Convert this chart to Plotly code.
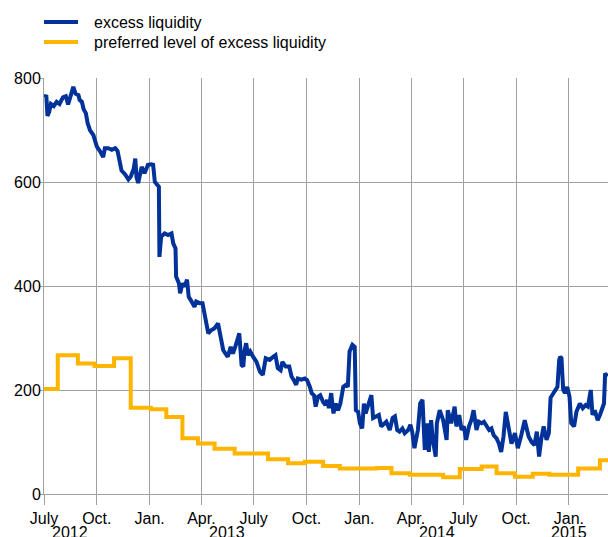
import pandas as pd
import plotly.graph_objects as go

START = pd.Timestamp("2012-07-01")

# excess liquidity (EUR bn); x given as days after 1 July 2012
excess_days = [
    1, 4, 6, 9, 12, 17, 22, 27, 33, 38, 42, 46, 51, 55, 60, 62, 66, 69, 73, 76,
    80, 86, 89, 92, 97, 100, 103, 106, 112, 118, 124, 128, 131, 135, 141, 147, 151, 156, 159, 161,
    164, 170, 175, 181, 187, 190, 193, 197, 200, 201, 204, 210, 216, 222, 225, 229, 230, 235, 237, 241,
    245, 249, 252, 257, 262, 265, 271, 276, 280, 286, 291, 297, 303, 308, 312, 316, 320, 325, 329, 335,
    340, 344, 347, 349, 352, 355, 359, 364, 370, 376, 381, 386, 393, 399, 403, 407, 412, 415, 421, 427,
    431, 435, 439, 442, 448, 454, 458, 463, 466, 470, 473, 477, 481, 486, 490, 493, 496, 500, 504, 508,
    512, 516, 521, 526, 529, 532, 537, 541, 543, 547, 550, 554, 557, 560, 564, 570, 573, 578, 583, 587,
    592, 596, 602, 607, 611, 615, 619, 624, 628, 634, 638, 641, 645, 651, 655, 659, 663, 667, 670, 674,
    677, 682, 684, 689, 695, 701, 703, 709, 715, 718, 723, 727, 731, 735, 740, 744, 748, 753, 757, 762,
    766, 770, 775, 779, 783, 788, 792, 796, 800, 804, 808, 811, 814, 820, 825, 831, 837, 841, 844, 849,
    854, 858, 862, 866, 870, 875, 879, 882, 886, 890, 894, 897, 899, 901, 904, 907, 911, 915, 918, 923,
    927, 933, 938, 943, 947, 952, 955, 959, 964, 968, 972, 975, 977, 981,
]
excess_values = [
    763, 767, 727, 735, 750, 746, 754, 750, 763, 765, 749, 763, 783, 770, 767, 758, 754, 740, 732, 713,
    700, 690, 680, 668, 660, 653, 648, 665, 665, 662, 665, 660, 640, 622, 615, 605, 610, 625, 645, 610,
    598, 629, 617, 633, 634, 633, 600, 594, 591, 456, 495, 501, 498, 501, 482, 472, 418, 405, 386, 405,
    399, 412, 379, 370, 360, 370, 367, 367, 345, 309, 315, 319, 328, 303, 277, 270, 264, 283, 270, 290,
    309, 248, 245, 274, 290, 267, 274, 264, 254, 235, 229, 261, 258, 264, 267, 242, 238, 254, 245, 245,
    226, 219, 210, 222, 220, 222, 219, 206, 194, 190, 168, 187, 190, 177, 171, 181, 165, 194, 155, 174,
    161, 174, 206, 210, 206, 274, 287, 283, 161, 158, 136, 126, 174, 155, 171, 190, 146, 149, 152, 130,
    136, 139, 123, 146, 149, 123, 120, 126, 117, 123, 133, 120, 88, 123, 174, 181, 85, 136, 81, 142,
    104, 72, 136, 161, 142, 104, 161, 136, 168, 130, 152, 123, 130, 104, 130, 142, 161, 123, 139, 136,
    139, 130, 123, 126, 113, 107, 97, 81, 110, 158, 136, 123, 97, 117, 88, 113, 142, 123, 110, 100,
    94, 120, 72, 107, 130, 104, 117, 185, 192, 197, 206, 258, 264, 261, 200, 194, 206, 187, 136, 130,
    158, 174, 165, 171, 168, 200, 152, 161, 142, 152, 168, 174, 232, 226,
]

# preferred level of excess liquidity: value from each step onwards
preferred_days = [
    0, 24, 59, 88, 122, 151, 186, 213, 241, 268, 297, 332, 390, 425, 454, 486,
    515, 579, 605, 637, 695, 724, 762, 788, 820, 851, 880, 930, 968, 982,
]
preferred_values = [
    202, 267, 251, 246, 261, 166, 163, 148, 107, 97, 87, 78, 67, 59, 62, 54,
    49, 50, 40, 37, 32, 48, 53, 40, 33, 39, 37, 49, 65, 65,
]

quarter_ticks = pd.date_range("2012-07-01", "2015-01-01", freq="QS")
quarter_labels = ["July", "Oct.", "Jan.", "Apr."] * 3
year_labels = ["2012", "2013", "2014", "2015"]
year_label_dates = ["2012-08-15", "2013-05-15", "2014-05-17", "2015-01-01"]

BLUE = "#003299"
YELLOW = "#ffb400"
GRID = "#a0a0a0"
FONT = "Liberation Sans, Arial, sans-serif"

W, H = 608, 537
L, R, T, B = 44, 608, 78, 494


def px_x(x):
    return (x - L) / (R - L)


def px_y(y):
    return (B - y) / (B - T)


excess_dates = START + pd.to_timedelta(excess_days, unit="D")
preferred_dates = START + pd.to_timedelta(preferred_days, unit="D")

fig = go.Figure()
fig.add_trace(go.Scatter(x=preferred_dates, y=preferred_values, mode="lines",
                         name="preferred level of excess liquidity", line_shape="hv",
                         line=dict(color=YELLOW, width=4), showlegend=False))
fig.add_trace(go.Scatter(x=excess_dates, y=excess_values, mode="lines",
                         name="excess liquidity",
                         line=dict(color=BLUE, width=4), showlegend=False))

# legend drawn by hand to match the original spacing
legend_items = [("excess liquidity", BLUE, 22), ("preferred level of excess liquidity", YELLOW, 42)]
for text, colour, ypos in legend_items:
    fig.add_shape(type="line", xref="paper", yref="paper",
                  x0=px_x(44), x1=px_x(78), y0=px_y(ypos), y1=px_y(ypos),
                  line=dict(color=colour, width=4))
    fig.add_annotation(text=text, xref="paper", yref="paper", x=px_x(92), y=px_y(ypos),
                       xanchor="left", yanchor="middle", showarrow=False,
                       font=dict(size=16, color="black", family=FONT))

# year labels sit on a second row under the quarter ticks (cut by the frame, as in the original)
for label, d in zip(year_labels, year_label_dates):
    fig.add_annotation(text=label, x=d, xref="x", yref="paper", y=px_y(522),
                       xanchor="center", yanchor="top", showarrow=False,
                       font=dict(size=16, color="black", family=FONT))

fig.update_xaxes(type="date", range=["2012-07-01", "2015-03-10"],
                 tickvals=quarter_ticks, ticktext=quarter_labels,
                 showgrid=True, gridcolor=GRID, gridwidth=1,
                 showline=True, linecolor=GRID, linewidth=1,
                 ticks="outside", ticklen=10, tickcolor=GRID,
                 tickfont=dict(size=16, color="black", family=FONT))
fig.update_yaxes(range=[0, 800], dtick=200,
                 showgrid=True, gridcolor=GRID, gridwidth=1,
                 showline=True, linecolor=GRID, linewidth=1, zeroline=False,
                 ticks="outside", ticklen=3, tickcolor=GRID, ticklabelstandoff=-4,
                 tickfont=dict(size=16, color="black", family=FONT))

fig.update_layout(width=W, height=H, margin=dict(l=L, r=W - R, t=T, b=H - B),
                  paper_bgcolor="white", plot_bgcolor="white", showlegend=False)

# the page body has a default 8px margin; drop it so the figure fills the window
fig.write_html("out.html", config={"displayModeBar": False},
               post_script="document.body.style.margin='0';document.body.style.overflow='hidden';")
